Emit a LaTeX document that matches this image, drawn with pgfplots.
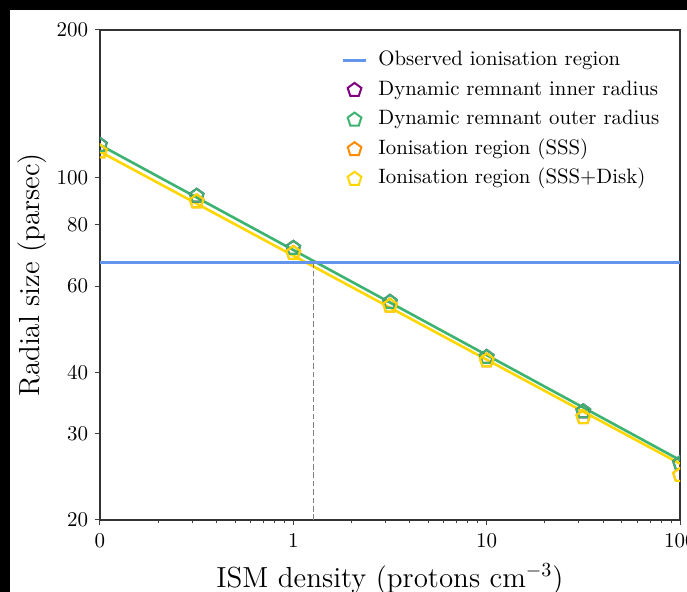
\documentclass[border=0pt]{standalone}
\usepackage{pgfplots}
\pgfplotsset{compat=1.18}
\definecolor{cblue}{RGB}{100,149,237}
\definecolor{cpurple}{RGB}{128,0,128}
\definecolor{cgreen}{RGB}{60,179,113}
\definecolor{corange}{RGB}{255,140,0}
\definecolor{cgold}{RGB}{255,215,0}
\pgfplotsset{
  markleg/.style={legend image code/.code={\draw[mark repeat=2,mark phase=2,##1] plot coordinates {(0cm,0cm)(0.25cm,0cm)(0.5cm,0cm)};}},
  lineleg/.style={legend image code/.code={\draw[##1] (0.04cm,0cm) -- (0.46cm,0cm);}},
}
\begin{document}
\begin{tikzpicture}
\useasboundingbox (0pt,0pt) rectangle (343.5pt,296pt);
\fill[black] (0pt,0pt) rectangle (343.5pt,296pt);
\fill[white] (5pt,0pt) rectangle (343.5pt,291pt);
\begin{axis}[
  at={(50pt,36pt)}, anchor=south west,
  scale only axis, width=290pt, height=245pt,
  xmode=log, ymode=log,
  xmin=0.1, xmax=100, ymin=20, ymax=200,
  xtick={0.1,1,10,100}, xticklabels={0,1,10,100},
  minor xtick={0.2,0.3,0.4,0.5,0.6,0.7,0.8,0.9,2,3,4,5,6,7,8,9,20,30,40,50,60,70,80,90},
  ytick={20,30,40,60,80,100,200}, yticklabels={20,30,40,60,80,100,200},
  minor ytick={},
  tick pos=left, tick align=outside,
  major tick length=2.4pt, minor tick length=1.4pt,
  every tick/.style={black!75, line width=0.5pt},
  axis line style={black!80, line width=0.8pt},
  ticklabel style={font=\fontsize{10.5}{12}\selectfont},
  xticklabel style={yshift=-1pt},
  xlabel={ISM density (protons cm$^{-3}$)},
  ylabel={Radial size (parsec)},
  label style={font=\fontsize{14.5}{17}\selectfont},
  xlabel style={yshift=-1pt},
  ylabel style={yshift=-2pt},
  clip marker paths=true,
  legend cell align=left,
  legend style={draw=none, fill=none, at={(axis description cs:0.405,0.967)}, anchor=north west,
    font=\fontsize{10.4}{12}\selectfont, row sep=4.8pt,
    nodes={inner ysep=0pt, text height=7.5pt, text depth=2.5pt},
    /tikz/every even column/.append style={column sep=0pt},
    /tikz/every odd column/.append style={column sep=3.3pt}},
]
% fit lines
\addplot[cgold, line width=1.3pt, forget plot] coordinates {(0.1,112.9) (100,26.06)};
\addplot[cgreen, line width=1.3pt, forget plot] coordinates {(0.1,116.5) (100,26.5)};
% observed region
\addplot[cblue, line width=1.3pt, lineleg] coordinates {(0.1,67.0) (100,67.0)};
\addlegendentry{Observed ionisation region}
\addplot[gray, line width=0.7pt, dash pattern=on 2.8pt off 1.4pt, forget plot] coordinates {(1.276,20) (1.276,67.0)};
% markers
\addplot[only marks, mark=pentagon, mark size=3.6pt, cpurple, line width=1pt, markleg] coordinates {
 (0.1,116.5) (0.3162,91.7) (1,71.8) (3.162,55.7) (10,43.0) (31.62,33.3) (100,26.1)};
\addlegendentry{Dynamic remnant inner radius}
\addplot[only marks, mark=pentagon, mark size=3.6pt, cgreen, line width=1pt, markleg] coordinates {
 (0.1,116.5) (0.3162,91.7) (1,71.8) (3.162,55.7) (10,43.0) (31.62,33.3) (100,26.1)};
\addlegendentry{Dynamic remnant outer radius}
\addplot[only marks, mark=pentagon, mark size=3.6pt, corange, line width=1pt, markleg] coordinates {
 (0.1,112.9) (0.3162,89.3) (1,70.1) (3.162,54.7) (10,42.3) (31.62,32.4) (100,24.7)};
\addlegendentry{Ionisation region (SSS)}
\addplot[only marks, mark=pentagon, mark size=3.6pt, cgold, line width=1pt, markleg] coordinates {
 (0.1,112.9) (0.3162,89.3) (1,70.1) (3.162,54.7) (10,42.3) (31.62,32.4) (100,24.7)};
\addlegendentry{Ionisation region (SSS+Disk)}
\end{axis}
\end{tikzpicture}
\end{document}
